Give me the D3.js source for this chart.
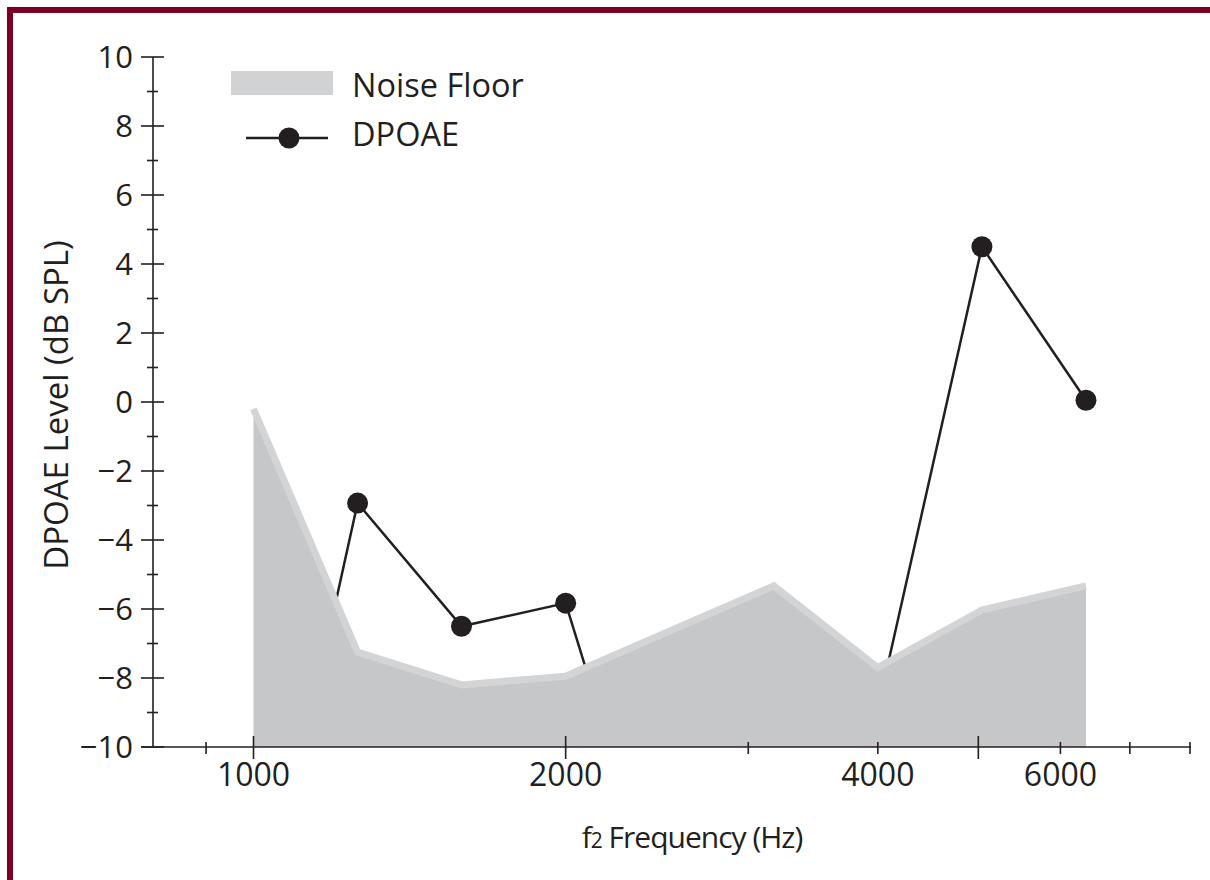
<!DOCTYPE html>
<html>
<head>
<meta charset="utf-8">
<script src="https://cdn.jsdelivr.net/npm/d3@7"></script>
<style>
  body { margin: 0; background: #fff; }
  svg { display: block; font-family: "Open Sans", "Noto Sans", sans-serif; }
</style>
</head>
<body>
<svg id="chart" width="1210" height="880"></svg>
<script>
// noise floor (dB SPL) at 1/3-octave f2 frequencies
const noiseFreq = [1000, 1260, 1587, 2000, 3175, 4000, 5040, 6350];
const noiseLevel = [-0.2, -7.25, -8.2, -7.95, -5.33, -7.7, -6.03, -5.33];

// DPOAE levels; points below the noise floor sit hidden under the grey area
const dpFreq = [1000, 1260, 1587, 2000, 2520, 3175, 4000, 5040, 6350];
const dpLevel = [-16.6, -2.93, -6.5, -5.83, -15.6, -13, -8.9, 4.5, 0.05];

const yMajor = [-10, -8, -6, -4, -2, 0, 2, 4, 6, 8, 10];
const yMinor = [-9, -7, -5, -3, -1, 1, 3, 5, 7, 9];
const xMajor = [1000, 2000, 5000];
const xMinor = [900, 3000, 4000, 6000, 7000, 8000];
const xLabels = [1000, 2000, 4000, 6000];

const legendNames = ["Noise Floor", "DPOAE"];

const ink = "#231f20";
const svg = d3.select("#chart");

// frame
svg.append("rect").attr("x", 7).attr("y", 7).attr("width", 1203).attr("height", 6).attr("fill", "#7d0024");
svg.append("rect").attr("x", 7).attr("y", 7).attr("width", 6).attr("height", 873).attr("fill", "#7d0024");

const x = d3.scaleLog().domain([800, 8000]).range([153, 1190]);
const y = d3.scaleLinear().domain([-10, 10]).range([747, 57]);

svg.append("clipPath").attr("id", "plot")
  .append("rect").attr("x", 153).attr("y", 40).attr("width", 1040).attr("height", 707);

const plot = svg.append("g").attr("clip-path", "url(#plot)");

// DPOAE line + markers (drawn first, noise floor covers it)
const dp = dpFreq.map((f, i) => [f, dpLevel[i]]);
plot.append("path")
  .datum(dp)
  .attr("fill", "none")
  .attr("stroke", ink)
  .attr("stroke-width", 2.5)
  .attr("d", d3.line().x(d => x(d[0])).y(d => y(d[1])));

plot.selectAll("circle.dp")
  .data(dp)
  .join("circle")
  .attr("class", "dp")
  .attr("cx", d => x(d[0]))
  .attr("cy", d => y(d[1]))
  .attr("r", 10.5)
  .attr("fill", ink);

// noise floor
const nf = noiseFreq.map((f, i) => [f, noiseLevel[i]]);
plot.append("path")
  .datum(nf)
  .attr("fill", "#c6c7c9")
  .attr("d", d3.area().x(d => x(d[0])).y0(y(-10)).y1(d => y(d[1])));
plot.append("path")
  .datum(nf)
  .attr("fill", "none")
  .attr("stroke", "#d3d4d6")
  .attr("stroke-width", 7)
  .attr("stroke-linejoin", "miter")
  .attr("d", d3.line().x(d => x(d[0])).y(d => y(d[1])));

// y axis
const yAxis = svg.append("g").attr("transform", "translate(153,0)");
yAxis.append("line").attr("y1", y(10)).attr("y2", y(-10)).attr("stroke", ink).attr("stroke-width", 1.6);
yAxis.selectAll("line.maj").data(yMajor).join("line")
  .attr("x1", -12).attr("x2", 11).attr("y1", d => y(d)).attr("y2", d => y(d))
  .attr("stroke", ink).attr("stroke-width", 1.6);
yAxis.selectAll("line.min").data(yMinor).join("line")
  .attr("x1", -6).attr("x2", 5).attr("y1", d => y(d)).attr("y2", d => y(d))
  .attr("stroke", ink).attr("stroke-width", 1.6);
const fmt = d3.format("d");
yAxis.selectAll("text").data(yMajor).join("text")
  .attr("x", -20).attr("y", d => y(d)).attr("dy", "0.36em")
  .attr("text-anchor", "end").attr("font-size", 31).attr("fill", ink)
  .text(d => fmt(d));

// x axis
const xAxis = svg.append("g").attr("transform", "translate(0,747)");
xAxis.append("line").attr("x1", 141).attr("x2", x(8000) + 1).attr("stroke", ink).attr("stroke-width", 1.6);
xAxis.selectAll("line.maj").data(xMajor).join("line")
  .attr("x1", d => x(d)).attr("x2", d => x(d)).attr("y1", -11).attr("y2", 12)
  .attr("stroke", ink).attr("stroke-width", 1.6);
xAxis.selectAll("line.min").data(xMinor).join("line")
  .attr("x1", d => x(d)).attr("x2", d => x(d)).attr("y1", -5).attr("y2", 7)
  .attr("stroke", ink).attr("stroke-width", 1.6);
xAxis.selectAll("text").data(xLabels).join("text")
  .attr("x", d => x(d)).attr("y", 39)
  .attr("text-anchor", "middle").attr("font-size", 32).attr("fill", ink)
  .text(d => d);

// axis titles
svg.append("text")
  .attr("transform", "translate(68,405) rotate(-90)")
  .attr("text-anchor", "middle").attr("font-size", 33).attr("fill", ink)
  .text("DPOAE Level (dB SPL)");

const xt = svg.append("text")
  .attr("x", 692).attr("y", 848)
  .attr("text-anchor", "middle").attr("font-size", 30).attr("letter-spacing", -1).attr("fill", ink);
xt.append("tspan").text("f");
xt.append("tspan").attr("font-size", 21).text("2");
xt.append("tspan").text(" Frequency (Hz)");

// legend
const lg = svg.append("g");
lg.append("rect").attr("x", 231).attr("y", 71).attr("width", 102).attr("height", 24).attr("fill", "#d1d2d4");
lg.append("line").attr("x1", 246).attr("x2", 328).attr("y1", 138).attr("y2", 138).attr("stroke", ink).attr("stroke-width", 2.5);
lg.append("circle").attr("cx", 289).attr("cy", 138).attr("r", 10.5).attr("fill", ink);
lg.selectAll("text").data(legendNames).join("text")
  .attr("x", 352).attr("y", (d, i) => 97 + i * 49)
  .attr("font-size", 32.5).attr("fill", ink)
  .text(d => d);
</script>
</body>
</html>
